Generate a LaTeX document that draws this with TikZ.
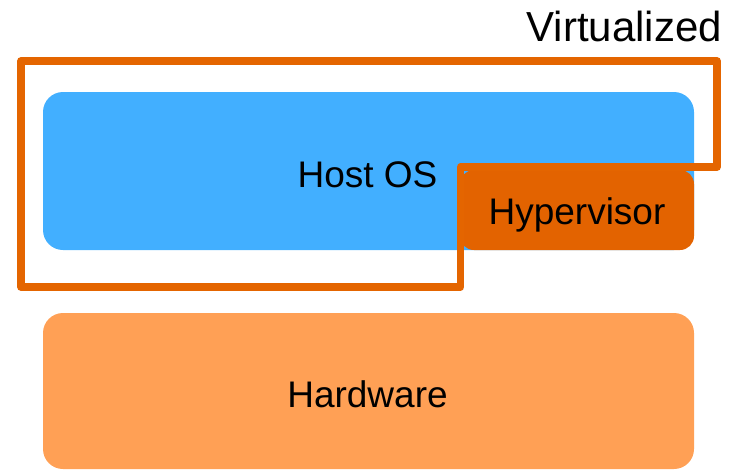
\documentclass[tikz,border=0pt]{standalone}
\usepackage{fontspec}
\setmainfont{Liberation Sans}
\definecolor{hostblue}{HTML}{42AFFF}
\definecolor{hwfill}{HTML}{FFA055}
\definecolor{hvfill}{HTML}{E36300}
\definecolor{virtline}{HTML}{E46500}
\begin{document}
\begin{tikzpicture}[x=1pt,y=-1pt,
  layer/.style={rounded corners=20pt,draw=none},
  lbl/.style={anchor=base,inner sep=0pt,font=\fontsize{37}{41}\selectfont},
  virtbound/.style={draw=virtline,line width=7.5pt,line join=round}]
\useasboundingbox (0,0) rectangle (736,469);
% stack of layers
\path[layer,fill=hwfill] (43,313) rectangle (694,469);
\path[layer,fill=hostblue] (43,92) rectangle (694,250);
\path[fill=hvfill,rounded corners=14pt] (460,170) rectangle (694,250);
\node[lbl] (host) at (367.5,187) {Host OS};
\node[lbl] (hyper) at (577,224) {Hypervisor};
\node[lbl] (hw) at (367.5,407) {Hardware};
% boundary of the virtualized part
\draw[virtbound] (21,61) -- (717,61) -- (717,167) -- (460.5,167) -- (460.5,287) -- (21,287) -- cycle;
\node[lbl,anchor=base east,font=\fontsize{42}{46}\selectfont] (virt) at (722,41) {Virtualized};
\end{tikzpicture}
\end{document}
